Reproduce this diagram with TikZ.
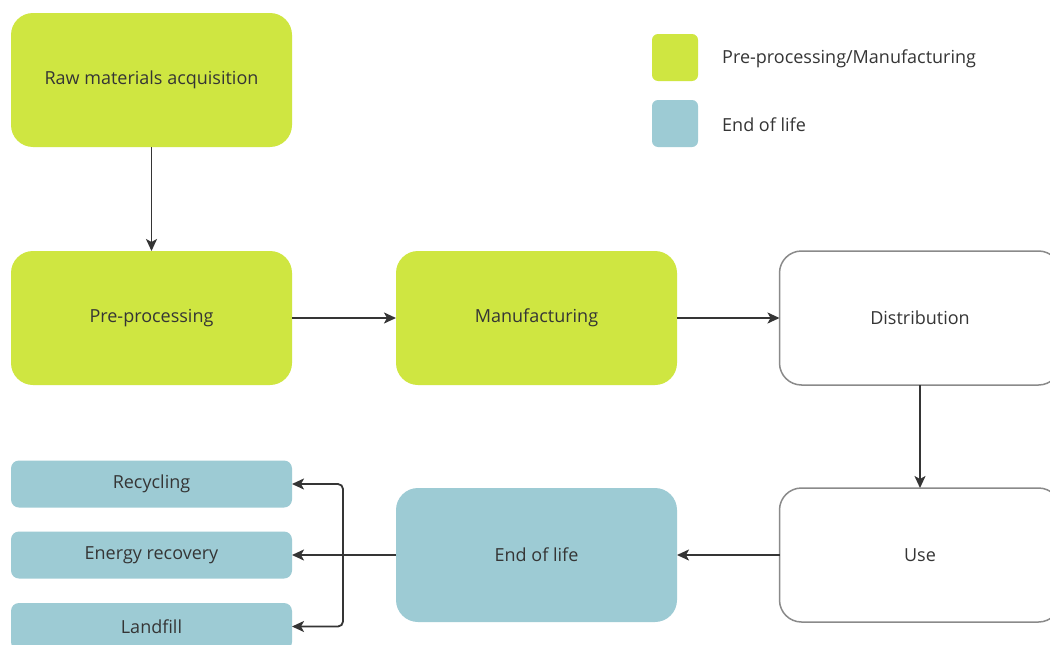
\documentclass[tikz,border=0pt]{standalone}
\usepackage{fontspec}
\setmainfont{Open Sans}
\usetikzlibrary{arrows.meta}
\definecolor{lime}{HTML}{CFE641}
\definecolor{teal}{HTML}{9DCBD4}
\definecolor{ink}{HTML}{353535}
\definecolor{edge}{HTML}{8A8A8A}
\tikzset{
  bigbox/.style={rectangle, rounded corners=22pt, minimum width=281pt, minimum height=134pt, inner sep=0pt, outer sep=0pt, text=ink, font=\fontsize{18}{21}\selectfont},
  greenbox/.style={bigbox, fill=lime},
  bluebox/.style={bigbox, fill=teal},
  whitebox/.style={bigbox, fill=white, draw=edge, line width=1.5pt},
  smallbox/.style={rectangle, rounded corners=8pt, fill=teal, minimum width=281pt, minimum height=47pt, inner sep=0pt, outer sep=0pt, text=ink, font=\fontsize{18}{21}\selectfont},
  swatch/.style={rectangle, rounded corners=6pt, minimum width=46pt, minimum height=47pt, inner sep=0pt},
  legendtext/.style={anchor=west, inner sep=0pt, text=ink, font=\fontsize{18}{21}\selectfont},
  flow/.style={draw=ink, line width=1.8pt, -{Stealth[length=12pt,width=11pt,inset=3pt]}},
}
\begin{document}
\begin{tikzpicture}[x=1pt,y=-1pt]
\clip (0,0) rectangle (1050,645);
\fill[white] (0,0) rectangle (1050,645);

\node[greenbox] (raw) at (151.5,80) {Raw materials acquisition};
\node[greenbox] (pre) at (151.5,318) {Pre-processing};
\node[greenbox] (man) at (536.5,318) {Manufacturing};
\node[whitebox] (dist) at (920,318) {Distribution};
\node[whitebox] (use) at (920,555) {Use};
\node[bluebox] (eol) at (536.5,555) {End of life};

\node[smallbox] (rec) at (151.5,484) {Recycling};
\node[smallbox] (ener) at (151.5,555) {Energy recovery};
\node[smallbox] (land) at (151.5,626.5) {Landfill};

\node[swatch, fill=lime] (sw1) at (675,57.5) {};
\node[swatch, fill=teal] (sw2) at (675,123.5) {};
\node[legendtext] (lt1) at (722,59) {Pre-processing/Manufacturing};
\node[legendtext] (lt2) at (722,125) {End of life};

\draw[flow] (raw.south) -- (pre.north);
\draw[flow] (pre.east) -- (man.west);
\draw[flow] (man.east) -- (dist.west);
\draw[flow] (dist.south) -- (use.north);
\draw[flow] (use.west) -- (eol.west -| man.east);

\coordinate (br) at (343,555);
\draw[draw=ink, line width=1.8pt] (eol.west) -- (br);
\draw[flow, rounded corners=5pt] (br) -- (343,484) -- (rec.east);
\draw[flow] (br) -- (ener.east);
\draw[flow, rounded corners=5pt] (br) -- (343,626.5) -- (land.east);
\end{tikzpicture}
\end{document}
